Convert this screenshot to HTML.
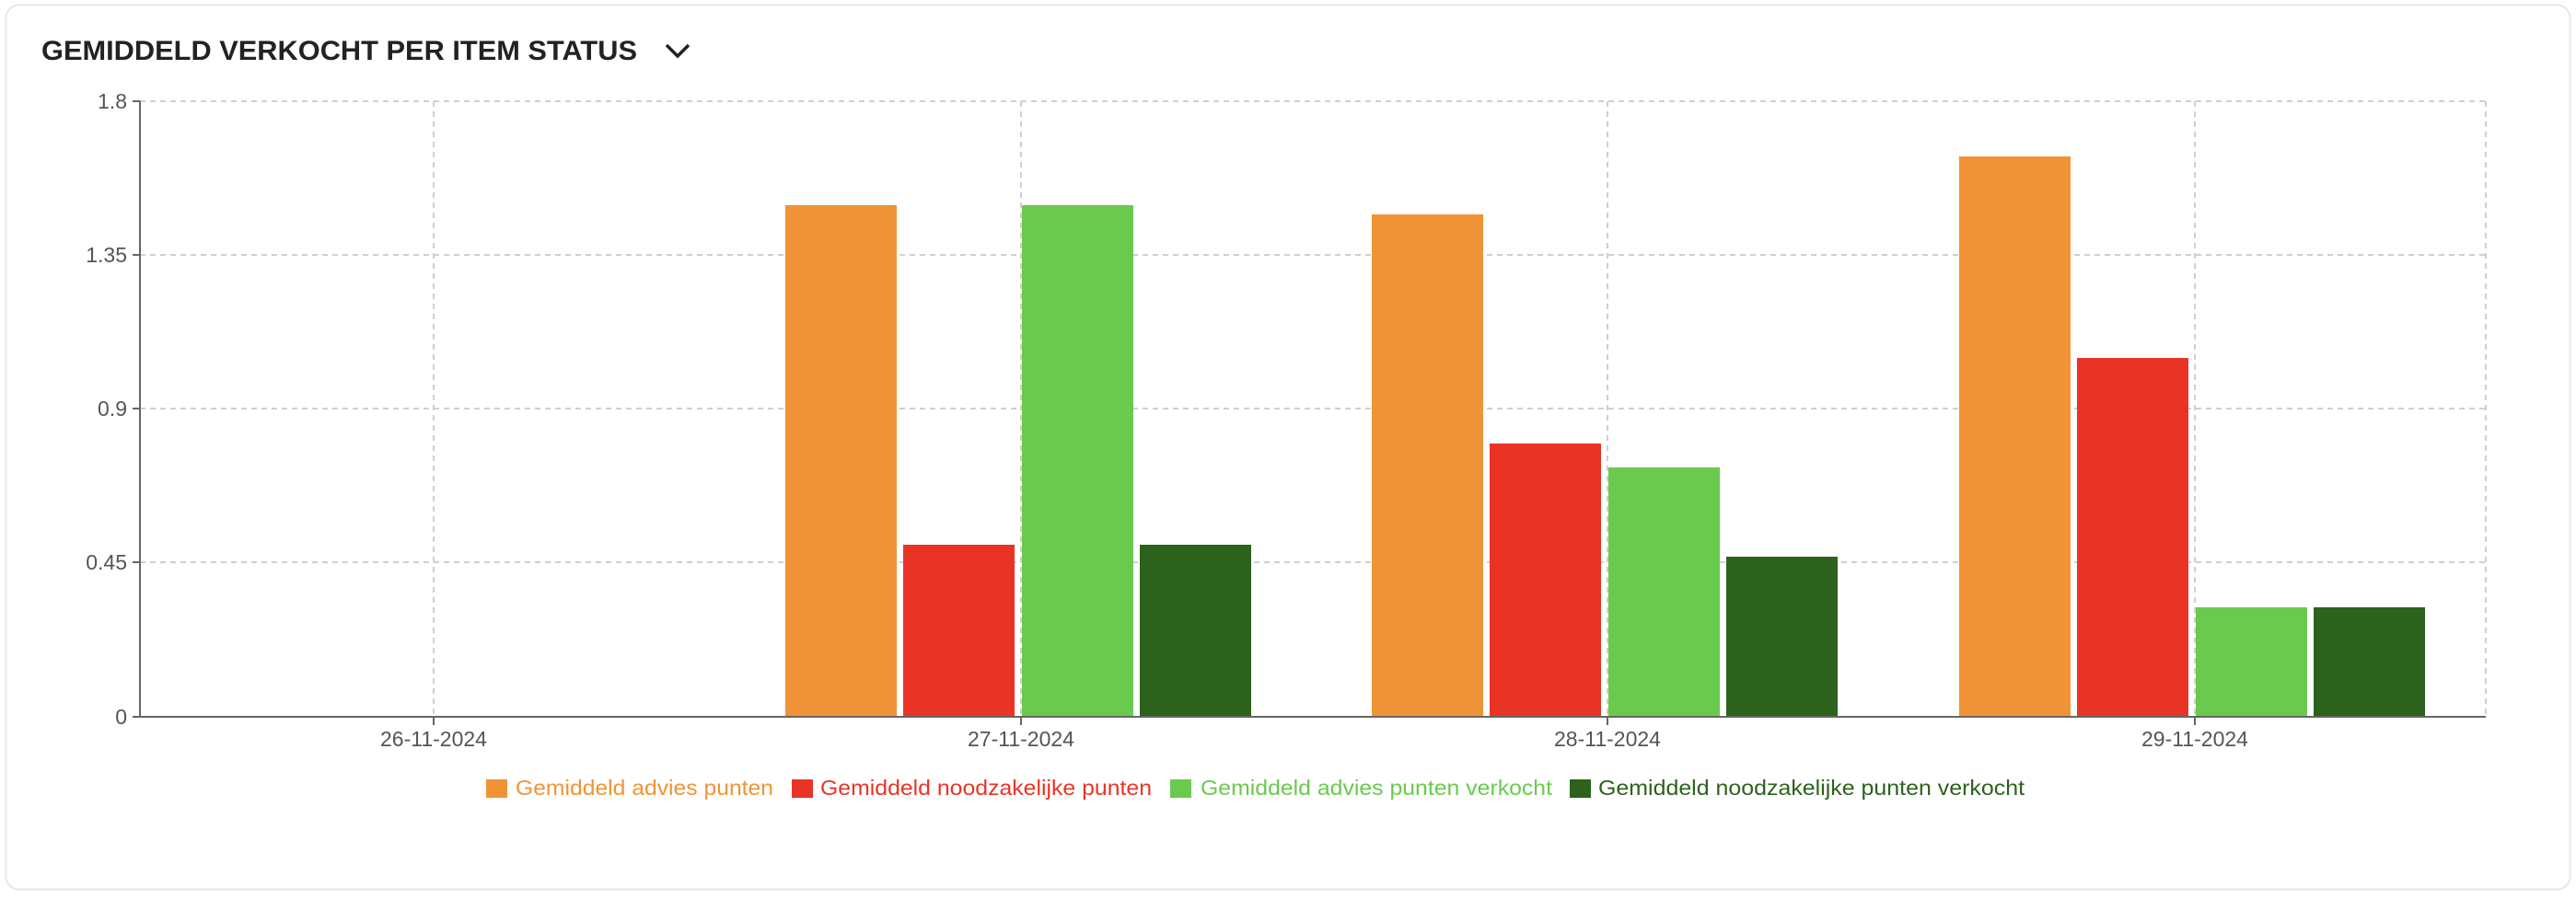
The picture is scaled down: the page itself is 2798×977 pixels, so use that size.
<!DOCTYPE html>
<html><head><meta charset="utf-8"><style>
html,body{margin:0;padding:0;background:#fff;}
body{width:2798px;height:972px;overflow:hidden;}
</style></head><body>
<svg width="2798" height="972" xmlns="http://www.w3.org/2000/svg" font-family="'Liberation Sans', sans-serif">
<rect x="6.5" y="5.5" width="2785" height="961" rx="14" fill="#fff" stroke="#e6e6e6" stroke-width="2"/>
<text x="45" y="65" font-size="30" font-weight="bold" fill="#222" textLength="647" lengthAdjust="spacingAndGlyphs">GEMIDDELD VERKOCHT PER ITEM STATUS</text>
<polyline points="724,49 736,61 748,49" fill="none" stroke="#222" stroke-width="3.5"/>
<g stroke="#cfcfcf" stroke-width="2" stroke-dasharray="6,5" fill="none">
<line x1="152" y1="110" x2="2700" y2="110"/>
<line x1="152" y1="277" x2="2700" y2="277"/>
<line x1="152" y1="444" x2="2700" y2="444"/>
<line x1="152" y1="611" x2="2700" y2="611"/>
<line x1="471" y1="110" x2="471" y2="778"/>
<line x1="1109" y1="110" x2="1109" y2="778"/>
<line x1="1746" y1="110" x2="1746" y2="778"/>
<line x1="2384" y1="110" x2="2384" y2="778"/>
<line x1="2700" y1="110" x2="2700" y2="778"/>
</g>
<g>
<rect x="853" y="223" width="121" height="556" fill="#f09337"/>
<rect x="981" y="592" width="121" height="187" fill="#e93425"/>
<rect x="1110" y="223" width="121" height="556" fill="#69ca4d"/>
<rect x="1238" y="592" width="121" height="187" fill="#2c621b"/>
<rect x="1490" y="233" width="121" height="546" fill="#f09337"/>
<rect x="1618" y="482" width="121" height="297" fill="#e93425"/>
<rect x="1747" y="508" width="121" height="271" fill="#69ca4d"/>
<rect x="1875" y="605" width="121" height="174" fill="#2c621b"/>
<rect x="2128" y="170" width="121" height="609" fill="#f09337"/>
<rect x="2256" y="389" width="121" height="390" fill="#e93425"/>
<rect x="2385" y="660" width="121" height="119" fill="#69ca4d"/>
<rect x="2513" y="660" width="121" height="119" fill="#2c621b"/>
</g>
<g stroke="#666" stroke-width="2">
<line x1="152" y1="110" x2="152" y2="779"/>
<line x1="151" y1="779" x2="2700" y2="779"/>
<line x1="144" y1="110" x2="152" y2="110"/>
<line x1="144" y1="277" x2="152" y2="277"/>
<line x1="144" y1="444" x2="152" y2="444"/>
<line x1="144" y1="611" x2="152" y2="611"/>
<line x1="144" y1="779" x2="152" y2="779"/>
<line x1="471" y1="779" x2="471" y2="788"/>
<line x1="1109" y1="779" x2="1109" y2="788"/>
<line x1="1746" y1="779" x2="1746" y2="788"/>
<line x1="2384" y1="779" x2="2384" y2="788"/>
</g>
<g font-size="23" fill="#555" text-anchor="end">
<text x="138" y="118">1.8</text>
<text x="138" y="285">1.35</text>
<text x="138" y="452">0.9</text>
<text x="138" y="619">0.45</text>
<text x="138" y="787">0</text>
</g>
<g font-size="23" fill="#555" text-anchor="middle">
<text x="471" y="811">26-11-2024</text>
<text x="1109" y="811">27-11-2024</text>
<text x="1746" y="811">28-11-2024</text>
<text x="2384" y="811">29-11-2024</text>
</g>
<g font-size="23">
<rect x="528" y="847" width="23" height="20" fill="#f09337"/>
<text x="560" y="864" fill="#f09337" textLength="280" lengthAdjust="spacingAndGlyphs">Gemiddeld advies punten</text>
<rect x="860" y="847" width="23" height="20" fill="#e93425"/>
<text x="891" y="864" fill="#e93425" textLength="360" lengthAdjust="spacingAndGlyphs">Gemiddeld noodzakelijke punten</text>
<rect x="1271" y="847" width="23" height="20" fill="#69ca4d"/>
<text x="1304" y="864" fill="#69ca4d" textLength="382" lengthAdjust="spacingAndGlyphs">Gemiddeld advies punten verkocht</text>
<rect x="1705" y="847" width="23" height="20" fill="#2c621b"/>
<text x="1736" y="864" fill="#2c621b" textLength="463" lengthAdjust="spacingAndGlyphs">Gemiddeld noodzakelijke punten verkocht</text>
</g>
</svg>
</body></html>
